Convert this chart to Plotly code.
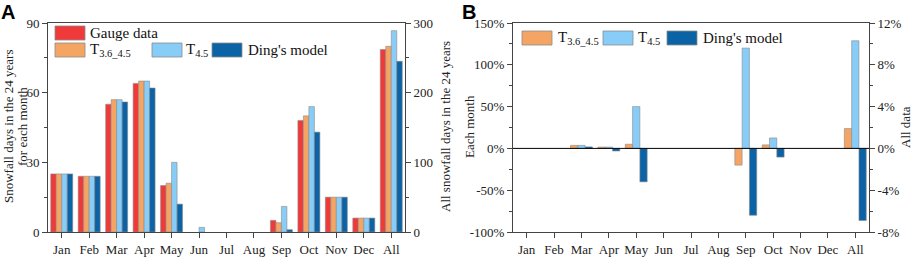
import plotly.graph_objects as go

months = ["Jan", "Feb", "Mar", "Apr", "May", "Jun", "Jul", "Aug", "Sep", "Oct", "Nov", "Dec"]
all_cat = ["All"]
categories = months + all_cat

# Panel A: snowfall days per month (left axis) and total (right axis)
gauge_m = [25, 24, 55, 64, 20, 0, 0, 0, 5, 48, 15, 6]
t36_m = [25, 24, 57, 65, 21, 0, 0, 0, 4, 50, 15, 6]
t45_m = [25, 24, 57, 65, 30, 2, 0, 0, 11, 54, 15, 6]
ding_m = [25, 24, 56, 62, 12, 0, 0, 0, 1, 43, 15, 6]
gauge_all = [262]
t36_all = [266.5]
t45_all = [289]
ding_all = [245]

# Panel B: relative difference (%) to gauge data
t36_rel = [0, 0, 3.6, 1.6, 5, None, None, None, -20, 4.2, 0, 0]
t45_rel = [0, 0, 3.6, 1.6, 50, None, None, None, 120, 12.5, 0, 0]
ding_rel = [0, 0, 1.8, -3.1, -40, None, None, None, -80, -10.4, 0, 0]
t36_rel_all = [1.9]
t45_rel_all = [10.3]
ding_rel_all = [-6.9]

yA_ticks = [0, 30, 60, 90]
yA2_ticks = [0, 100, 200, 300]
yB_ticks = [-100, -50, 0, 50, 100, 150]
yB2_ticks = [-8, -4, 0, 4, 8, 12]

C_GAUGE = "#F03A3A"
C_T36 = "#F4A564"
C_T45 = "#88CDF8"
C_DING = "#0B63A6"
EDGE = "#8A8A8A"

FONT = "Liberation Serif"
AX = "#444444"


def lw(vals):
    # no outline on empty (zero / missing) bars
    return [0 if (v is None or v == 0) else 0.6 for v in vals]


fig = go.Figure()

wA = 0.2
seriesA = [(gauge_m, gauge_all, C_GAUGE), (t36_m, t36_all, C_T36),
           (t45_m, t45_all, C_T45), (ding_m, ding_all, C_DING)]
for i, (m, a, c) in enumerate(seriesA):
    off = -0.4 + i * wA
    fig.add_trace(go.Bar(x=months, y=m, xaxis="x", yaxis="y", width=wA, offset=off,
                         marker=dict(color=c, line=dict(color=EDGE, width=lw(m))), showlegend=False))
    fig.add_trace(go.Bar(x=all_cat, y=a, xaxis="x", yaxis="y2", width=wA, offset=off,
                         marker=dict(color=c, line=dict(color=EDGE, width=lw(a))), showlegend=False))

wB = 0.8 / 3
seriesB = [(t36_rel, t36_rel_all, C_T36), (t45_rel, t45_rel_all, C_T45), (ding_rel, ding_rel_all, C_DING)]
for i, (m, a, c) in enumerate(seriesB):
    off = -0.4 + i * wB
    fig.add_trace(go.Bar(x=months, y=m, xaxis="x2", yaxis="y3", width=wB, offset=off,
                         marker=dict(color=c, line=dict(color=EDGE, width=lw(m))), showlegend=False))
    fig.add_trace(go.Bar(x=all_cat, y=a, xaxis="x2", yaxis="y4", width=wB, offset=off,
                         marker=dict(color=c, line=dict(color=EDGE, width=lw(a))), showlegend=False))

W, H = 913, 258
xA = [48 / W, 405 / W]
xB = [513 / W, 869 / W]
yD = [(H - 232) / H, (H - 23) / H]
tickfont = dict(family=FONT, size=13, color="#222222")

xcommon = dict(type="category", categoryorder="array", categoryarray=categories,
               range=[-0.5, 12.5], showline=True, linecolor=AX, linewidth=1, mirror=True,
               ticks="outside", ticklen=5, tickcolor=AX, tickfont=tickfont, showgrid=False,
               zeroline=False, tickson="labels", automargin=False)
ycommon = dict(showline=True, linecolor=AX, linewidth=1, ticks="outside", ticklen=5,
               tickcolor=AX, tickfont=tickfont, showgrid=False, zeroline=False, automargin=False)

fig.update_layout(
    width=W, height=H, margin=dict(l=0, r=0, t=0, b=0, pad=0, autoexpand=False),
    paper_bgcolor="white", plot_bgcolor="white", barmode="overlay",
    font=dict(family=FONT, size=13, color="#222222"),
    xaxis=dict(domain=xA, anchor="y", **xcommon),
    yaxis=dict(domain=yD, anchor="x", range=[0, 90], tickvals=yA_ticks,
               ticktext=[str(v) for v in yA_ticks],
               minor=dict(tickvals=[15, 45, 75], ticks="outside", ticklen=3, tickcolor=AX),
               **ycommon),
    yaxis2=dict(overlaying="y", side="right", anchor="x", range=[0, 300],
                tickvals=yA2_ticks, ticktext=[str(v) for v in yA2_ticks],
                minor=dict(tickvals=[50, 150, 250], ticks="outside", ticklen=3, tickcolor=AX),
                **ycommon),
    xaxis2=dict(domain=xB, anchor="y3", **xcommon),
    yaxis3=dict(domain=yD, anchor="x2", range=[-100, 150], tickvals=yB_ticks,
                ticktext=[f"{v}%" for v in yB_ticks],
                minor=dict(tickvals=[-75, -25, 25, 75, 125], ticks="outside", ticklen=3, tickcolor=AX),
                **ycommon),
    yaxis4=dict(overlaying="y3", side="right", anchor="x2", range=[-8, 12],
                tickvals=yB2_ticks, ticktext=[f"{v}%" for v in yB2_ticks],
                minor=dict(tickvals=[-6, -2, 2, 6, 10], ticks="outside", ticklen=3, tickcolor=AX),
                **ycommon),
)

# zero line in panel B
fig.add_shape(type="line", xref="x2 domain", yref="y3", x0=0, x1=1, y0=0, y1=0,
              line=dict(color="black", width=1))


def px(x):
    return x / W


def py(y):
    return 1 - y / H


def legend_item(x0, yc, color, label, tx):
    fig.add_shape(type="rect", xref="paper", yref="paper",
                  x0=px(x0), x1=px(x0 + 30), y0=py(yc - 7), y1=py(yc + 7),
                  fillcolor=color, line=dict(color=EDGE, width=0.8))
    fig.add_annotation(xref="paper", yref="paper", x=px(tx), y=py(yc), text=label,
                       showarrow=False, xanchor="left", yanchor="middle",
                       font=dict(family=FONT, size=15, color="#111111"))


legend_item(55, 33, C_GAUGE, "Gauge data", 88)
legend_item(55, 50, C_T36, "T<sub>3.6_4.5</sub>", 88)
legend_item(152, 50, C_T45, "T<sub>4.5</sub>", 184)
legend_item(212, 50, C_DING, "Ding's model", 246)

legend_item(522, 38, C_T36, "T<sub>3.6_4.5</sub>", 556)
legend_item(603, 38, C_T45, "T<sub>4.5</sub>", 636)
legend_item(667, 38, C_DING, "Ding's model", 701)


def vtitle(x, text):
    fig.add_annotation(xref="paper", yref="paper", x=px(x), y=py(127), text=text,
                       textangle=-90, showarrow=False, xanchor="center", yanchor="middle",
                       font=dict(family=FONT, size=13, color="#222222"))


vtitle(8, "Snowfall days in the 24 years")
vtitle(22, "for each month")
vtitle(445, "All snowfall days in the 24 years")
vtitle(469, "Each month")
vtitle(905, "All data")

fig.add_annotation(xref="paper", yref="paper", x=px(0), y=1, text="<b>A</b>",
                   showarrow=False, xanchor="left", yanchor="top", borderpad=0,
                   font=dict(family="Liberation Sans", size=20, color="black"))
fig.add_annotation(xref="paper", yref="paper", x=px(461), y=1, text="<b>B</b>",
                   showarrow=False, xanchor="left", yanchor="top", borderpad=0,
                   font=dict(family="Liberation Sans", size=20, color="black"))

fig.write_html("out.html", config={"displayModeBar": False},
               post_script="document.body.style.margin='0';document.body.style.overflow='hidden';")
